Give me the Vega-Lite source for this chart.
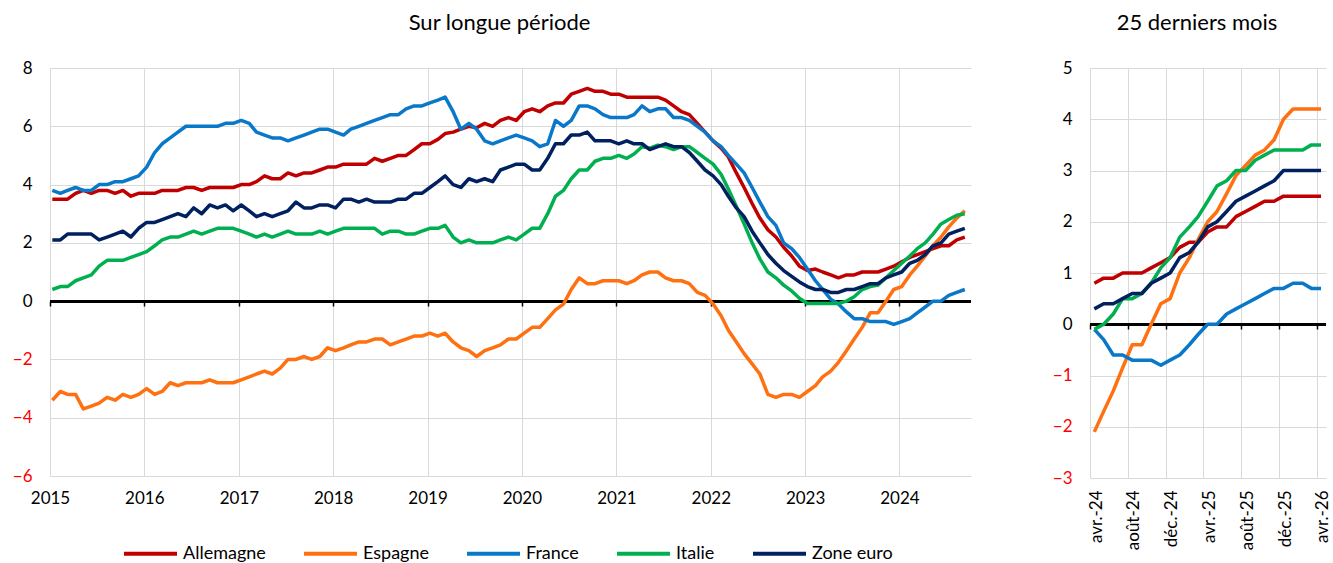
{
"$schema": "https://vega.github.io/schema/vega-lite/v6.json",
"padding": {"left": 12, "top": 12, "right": 2, "bottom": 0},
"config": {"font": "Lato", "view": {"stroke": null}, "title": {"fontSize": 22, "fontWeight": "normal", "color": "#000000", "offset": 24}, "axis": {"labelFont": "Lato", "labelColor": "#000000"}},
"spacing": 80,
"resolve": {"legend": {"color": "independent"}, "scale": {"color": "independent"}},
"hconcat": [
{
"title": {"text": "Sur longue période", "dx": -11},
"width": 921,
"height": 408,
"data": {"values": [
{"d":"2015-01-10","Allemagne":3.5,"Espagne":-3.4,"France":3.8,"Italie":0.4,"Zone euro":2.1},
{"d":"2015-02-10","Allemagne":3.5,"Espagne":-3.1,"France":3.7,"Italie":0.5,"Zone euro":2.1},
{"d":"2015-03-10","Allemagne":3.5,"Espagne":-3.2,"France":3.8,"Italie":0.5,"Zone euro":2.3},
{"d":"2015-04-10","Allemagne":3.7,"Espagne":-3.2,"France":3.9,"Italie":0.7,"Zone euro":2.3},
{"d":"2015-05-10","Allemagne":3.8,"Espagne":-3.7,"France":3.8,"Italie":0.8,"Zone euro":2.3},
{"d":"2015-06-10","Allemagne":3.7,"Espagne":-3.6,"France":3.8,"Italie":0.9,"Zone euro":2.3},
{"d":"2015-07-10","Allemagne":3.8,"Espagne":-3.5,"France":4.0,"Italie":1.2,"Zone euro":2.1},
{"d":"2015-08-10","Allemagne":3.8,"Espagne":-3.3,"France":4.0,"Italie":1.4,"Zone euro":2.2},
{"d":"2015-09-10","Allemagne":3.7,"Espagne":-3.4,"France":4.1,"Italie":1.4,"Zone euro":2.3},
{"d":"2015-10-10","Allemagne":3.8,"Espagne":-3.2,"France":4.1,"Italie":1.4,"Zone euro":2.4},
{"d":"2015-11-10","Allemagne":3.6,"Espagne":-3.3,"France":4.2,"Italie":1.5,"Zone euro":2.2},
{"d":"2015-12-10","Allemagne":3.7,"Espagne":-3.2,"France":4.3,"Italie":1.6,"Zone euro":2.5},
{"d":"2016-01-10","Allemagne":3.7,"Espagne":-3.0,"France":4.6,"Italie":1.7,"Zone euro":2.7},
{"d":"2016-02-10","Allemagne":3.7,"Espagne":-3.2,"France":5.1,"Italie":1.9,"Zone euro":2.7},
{"d":"2016-03-10","Allemagne":3.8,"Espagne":-3.1,"France":5.4,"Italie":2.1,"Zone euro":2.8},
{"d":"2016-04-10","Allemagne":3.8,"Espagne":-2.8,"France":5.6,"Italie":2.2,"Zone euro":2.9},
{"d":"2016-05-10","Allemagne":3.8,"Espagne":-2.9,"France":5.8,"Italie":2.2,"Zone euro":3.0},
{"d":"2016-06-10","Allemagne":3.9,"Espagne":-2.8,"France":6.0,"Italie":2.3,"Zone euro":2.9},
{"d":"2016-07-10","Allemagne":3.9,"Espagne":-2.8,"France":6.0,"Italie":2.4,"Zone euro":3.2},
{"d":"2016-08-10","Allemagne":3.8,"Espagne":-2.8,"France":6.0,"Italie":2.3,"Zone euro":3.0},
{"d":"2016-09-10","Allemagne":3.9,"Espagne":-2.7,"France":6.0,"Italie":2.4,"Zone euro":3.3},
{"d":"2016-10-10","Allemagne":3.9,"Espagne":-2.8,"France":6.0,"Italie":2.5,"Zone euro":3.2},
{"d":"2016-11-10","Allemagne":3.9,"Espagne":-2.8,"France":6.1,"Italie":2.5,"Zone euro":3.3},
{"d":"2016-12-10","Allemagne":3.9,"Espagne":-2.8,"France":6.1,"Italie":2.5,"Zone euro":3.1},
{"d":"2017-01-10","Allemagne":4.0,"Espagne":-2.7,"France":6.2,"Italie":2.4,"Zone euro":3.3},
{"d":"2017-02-10","Allemagne":4.0,"Espagne":-2.6,"France":6.1,"Italie":2.3,"Zone euro":3.1},
{"d":"2017-03-10","Allemagne":4.1,"Espagne":-2.5,"France":5.8,"Italie":2.2,"Zone euro":2.9},
{"d":"2017-04-10","Allemagne":4.3,"Espagne":-2.4,"France":5.7,"Italie":2.3,"Zone euro":3.0},
{"d":"2017-05-10","Allemagne":4.2,"Espagne":-2.5,"France":5.6,"Italie":2.2,"Zone euro":2.9},
{"d":"2017-06-10","Allemagne":4.2,"Espagne":-2.3,"France":5.6,"Italie":2.3,"Zone euro":3.0},
{"d":"2017-07-10","Allemagne":4.4,"Espagne":-2.0,"France":5.5,"Italie":2.4,"Zone euro":3.1},
{"d":"2017-08-10","Allemagne":4.3,"Espagne":-2.0,"France":5.6,"Italie":2.3,"Zone euro":3.4},
{"d":"2017-09-10","Allemagne":4.4,"Espagne":-1.9,"France":5.7,"Italie":2.3,"Zone euro":3.2},
{"d":"2017-10-10","Allemagne":4.4,"Espagne":-2.0,"France":5.8,"Italie":2.3,"Zone euro":3.2},
{"d":"2017-11-10","Allemagne":4.5,"Espagne":-1.9,"France":5.9,"Italie":2.4,"Zone euro":3.3},
{"d":"2017-12-10","Allemagne":4.6,"Espagne":-1.6,"France":5.9,"Italie":2.3,"Zone euro":3.3},
{"d":"2018-01-10","Allemagne":4.6,"Espagne":-1.7,"France":5.8,"Italie":2.4,"Zone euro":3.2},
{"d":"2018-02-10","Allemagne":4.7,"Espagne":-1.6,"France":5.7,"Italie":2.5,"Zone euro":3.5},
{"d":"2018-03-10","Allemagne":4.7,"Espagne":-1.5,"France":5.9,"Italie":2.5,"Zone euro":3.5},
{"d":"2018-04-10","Allemagne":4.7,"Espagne":-1.4,"France":6.0,"Italie":2.5,"Zone euro":3.4},
{"d":"2018-05-10","Allemagne":4.7,"Espagne":-1.4,"France":6.1,"Italie":2.5,"Zone euro":3.5},
{"d":"2018-06-10","Allemagne":4.9,"Espagne":-1.3,"France":6.2,"Italie":2.5,"Zone euro":3.4},
{"d":"2018-07-10","Allemagne":4.8,"Espagne":-1.3,"France":6.3,"Italie":2.3,"Zone euro":3.4},
{"d":"2018-08-10","Allemagne":4.9,"Espagne":-1.5,"France":6.4,"Italie":2.4,"Zone euro":3.4},
{"d":"2018-09-10","Allemagne":5.0,"Espagne":-1.4,"France":6.4,"Italie":2.4,"Zone euro":3.5},
{"d":"2018-10-10","Allemagne":5.0,"Espagne":-1.3,"France":6.6,"Italie":2.3,"Zone euro":3.5},
{"d":"2018-11-10","Allemagne":5.2,"Espagne":-1.2,"France":6.7,"Italie":2.3,"Zone euro":3.7},
{"d":"2018-12-10","Allemagne":5.4,"Espagne":-1.2,"France":6.7,"Italie":2.4,"Zone euro":3.7},
{"d":"2019-01-10","Allemagne":5.4,"Espagne":-1.1,"France":6.8,"Italie":2.5,"Zone euro":3.9},
{"d":"2019-02-10","Allemagne":5.55,"Espagne":-1.2,"France":6.9,"Italie":2.5,"Zone euro":4.1},
{"d":"2019-03-10","Allemagne":5.75,"Espagne":-1.1,"France":7.0,"Italie":2.6,"Zone euro":4.3},
{"d":"2019-04-10","Allemagne":5.8,"Espagne":-1.4,"France":6.5,"Italie":2.2,"Zone euro":4.0},
{"d":"2019-05-10","Allemagne":5.9,"Espagne":-1.6,"France":5.9,"Italie":2.0,"Zone euro":3.9},
{"d":"2019-06-10","Allemagne":6.0,"Espagne":-1.7,"France":6.1,"Italie":2.1,"Zone euro":4.2},
{"d":"2019-07-10","Allemagne":5.95,"Espagne":-1.9,"France":5.9,"Italie":2.0,"Zone euro":4.1},
{"d":"2019-08-10","Allemagne":6.1,"Espagne":-1.7,"France":5.5,"Italie":2.0,"Zone euro":4.2},
{"d":"2019-09-10","Allemagne":6.0,"Espagne":-1.6,"France":5.4,"Italie":2.0,"Zone euro":4.1},
{"d":"2019-10-10","Allemagne":6.2,"Espagne":-1.5,"France":5.5,"Italie":2.1,"Zone euro":4.5},
{"d":"2019-11-10","Allemagne":6.3,"Espagne":-1.3,"France":5.6,"Italie":2.2,"Zone euro":4.6},
{"d":"2019-12-10","Allemagne":6.2,"Espagne":-1.3,"France":5.7,"Italie":2.1,"Zone euro":4.7},
{"d":"2020-01-10","Allemagne":6.5,"Espagne":-1.1,"France":5.6,"Italie":2.3,"Zone euro":4.7},
{"d":"2020-02-10","Allemagne":6.6,"Espagne":-0.9,"France":5.5,"Italie":2.5,"Zone euro":4.5},
{"d":"2020-03-10","Allemagne":6.5,"Espagne":-0.9,"France":5.3,"Italie":2.5,"Zone euro":4.5},
{"d":"2020-04-10","Allemagne":6.7,"Espagne":-0.6,"France":5.4,"Italie":3.0,"Zone euro":4.9},
{"d":"2020-05-10","Allemagne":6.8,"Espagne":-0.3,"France":6.2,"Italie":3.6,"Zone euro":5.4},
{"d":"2020-06-10","Allemagne":6.8,"Espagne":-0.1,"France":6.0,"Italie":3.8,"Zone euro":5.4},
{"d":"2020-07-10","Allemagne":7.1,"Espagne":0.4,"France":6.2,"Italie":4.2,"Zone euro":5.7},
{"d":"2020-08-10","Allemagne":7.2,"Espagne":0.8,"France":6.7,"Italie":4.5,"Zone euro":5.7},
{"d":"2020-09-10","Allemagne":7.3,"Espagne":0.6,"France":6.7,"Italie":4.5,"Zone euro":5.8},
{"d":"2020-10-10","Allemagne":7.2,"Espagne":0.6,"France":6.6,"Italie":4.8,"Zone euro":5.5},
{"d":"2020-11-10","Allemagne":7.2,"Espagne":0.7,"France":6.4,"Italie":4.9,"Zone euro":5.5},
{"d":"2020-12-10","Allemagne":7.1,"Espagne":0.7,"France":6.3,"Italie":4.9,"Zone euro":5.5},
{"d":"2021-01-10","Allemagne":7.1,"Espagne":0.7,"France":6.3,"Italie":5.0,"Zone euro":5.4},
{"d":"2021-02-10","Allemagne":7.0,"Espagne":0.6,"France":6.3,"Italie":4.9,"Zone euro":5.5},
{"d":"2021-03-10","Allemagne":7.0,"Espagne":0.7,"France":6.4,"Italie":5.05,"Zone euro":5.4},
{"d":"2021-04-10","Allemagne":7.0,"Espagne":0.9,"France":6.7,"Italie":5.3,"Zone euro":5.4},
{"d":"2021-05-10","Allemagne":7.0,"Espagne":1.0,"France":6.5,"Italie":5.25,"Zone euro":5.2},
{"d":"2021-06-10","Allemagne":7.0,"Espagne":1.0,"France":6.6,"Italie":5.35,"Zone euro":5.3},
{"d":"2021-07-10","Allemagne":6.9,"Espagne":0.8,"France":6.6,"Italie":5.3,"Zone euro":5.4},
{"d":"2021-08-10","Allemagne":6.7,"Espagne":0.7,"France":6.3,"Italie":5.2,"Zone euro":5.3},
{"d":"2021-09-10","Allemagne":6.5,"Espagne":0.7,"France":6.3,"Italie":5.3,"Zone euro":5.3},
{"d":"2021-10-10","Allemagne":6.4,"Espagne":0.6,"France":6.2,"Italie":5.3,"Zone euro":5.1},
{"d":"2021-11-10","Allemagne":6.1,"Espagne":0.3,"France":6.0,"Italie":5.1,"Zone euro":4.8},
{"d":"2021-12-10","Allemagne":5.8,"Espagne":0.2,"France":5.8,"Italie":4.9,"Zone euro":4.5},
{"d":"2022-01-10","Allemagne":5.5,"Espagne":-0.1,"France":5.5,"Italie":4.7,"Zone euro":4.3},
{"d":"2022-02-10","Allemagne":5.25,"Espagne":-0.5,"France":5.3,"Italie":4.35,"Zone euro":4.0},
{"d":"2022-03-10","Allemagne":4.95,"Espagne":-1.0,"France":5.0,"Italie":3.85,"Zone euro":3.6},
{"d":"2022-04-10","Allemagne":4.4,"Espagne":-1.4,"France":4.7,"Italie":3.25,"Zone euro":3.2},
{"d":"2022-05-10","Allemagne":3.9,"Espagne":-1.8,"France":4.4,"Italie":2.65,"Zone euro":2.9},
{"d":"2022-06-10","Allemagne":3.35,"Espagne":-2.15,"France":3.9,"Italie":2.0,"Zone euro":2.4},
{"d":"2022-07-10","Allemagne":2.85,"Espagne":-2.5,"France":3.4,"Italie":1.45,"Zone euro":2.0},
{"d":"2022-08-10","Allemagne":2.45,"Espagne":-3.2,"France":2.9,"Italie":1.0,"Zone euro":1.6},
{"d":"2022-09-10","Allemagne":2.2,"Espagne":-3.3,"France":2.6,"Italie":0.8,"Zone euro":1.3},
{"d":"2022-10-10","Allemagne":1.85,"Espagne":-3.2,"France":2.0,"Italie":0.55,"Zone euro":1.05},
{"d":"2022-11-10","Allemagne":1.55,"Espagne":-3.2,"France":1.8,"Italie":0.35,"Zone euro":0.85},
{"d":"2022-12-10","Allemagne":1.2,"Espagne":-3.3,"France":1.5,"Italie":0.1,"Zone euro":0.66},
{"d":"2023-01-10","Allemagne":1.05,"Espagne":-3.1,"France":1.1,"Italie":-0.08,"Zone euro":0.5},
{"d":"2023-02-10","Allemagne":1.1,"Espagne":-2.9,"France":0.7,"Italie":-0.08,"Zone euro":0.4},
{"d":"2023-03-10","Allemagne":1.0,"Espagne":-2.6,"France":0.4,"Italie":-0.08,"Zone euro":0.4},
{"d":"2023-04-10","Allemagne":0.9,"Espagne":-2.4,"France":0.07,"Italie":-0.08,"Zone euro":0.3},
{"d":"2023-05-10","Allemagne":0.8,"Espagne":-2.1,"France":-0.1,"Italie":-0.08,"Zone euro":0.3},
{"d":"2023-06-10","Allemagne":0.9,"Espagne":-1.7,"France":-0.37,"Italie":0.0,"Zone euro":0.4},
{"d":"2023-07-10","Allemagne":0.9,"Espagne":-1.3,"France":-0.6,"Italie":0.15,"Zone euro":0.4},
{"d":"2023-08-10","Allemagne":1.0,"Espagne":-0.9,"France":-0.6,"Italie":0.4,"Zone euro":0.5},
{"d":"2023-09-10","Allemagne":1.0,"Espagne":-0.4,"France":-0.7,"Italie":0.5,"Zone euro":0.6},
{"d":"2023-10-10","Allemagne":1.0,"Espagne":-0.4,"France":-0.7,"Italie":0.55,"Zone euro":0.6},
{"d":"2023-11-10","Allemagne":1.1,"Espagne":0.0,"France":-0.7,"Italie":0.8,"Zone euro":0.8},
{"d":"2023-12-10","Allemagne":1.2,"Espagne":0.4,"France":-0.8,"Italie":1.05,"Zone euro":0.9},
{"d":"2024-01-10","Allemagne":1.35,"Espagne":0.5,"France":-0.7,"Italie":1.3,"Zone euro":1.0},
{"d":"2024-02-10","Allemagne":1.5,"Espagne":0.9,"France":-0.6,"Italie":1.55,"Zone euro":1.3},
{"d":"2024-03-10","Allemagne":1.6,"Espagne":1.2,"France":-0.4,"Italie":1.8,"Zone euro":1.4},
{"d":"2024-04-10","Allemagne":1.7,"Espagne":1.55,"France":-0.2,"Italie":2.0,"Zone euro":1.6},
{"d":"2024-05-10","Allemagne":1.8,"Espagne":1.9,"France":0.0,"Italie":2.3,"Zone euro":1.9},
{"d":"2024-06-10","Allemagne":1.9,"Espagne":2.2,"France":0.0,"Italie":2.65,"Zone euro":2.0},
{"d":"2024-07-10","Allemagne":1.9,"Espagne":2.55,"France":0.2,"Italie":2.8,"Zone euro":2.3},
{"d":"2024-08-10","Allemagne":2.1,"Espagne":2.85,"France":0.3,"Italie":2.95,"Zone euro":2.4},
{"d":"2024-09-10","Allemagne":2.2,"Espagne":3.1,"France":0.4,"Italie":3.0,"Zone euro":2.5}
]},
"transform": [{"fold": ["Allemagne","Espagne","France","Italie","Zone euro"], "as": ["pays","val"]}],
"layer": [
{
"mark": {"type": "rule", "color": "#000000", "strokeWidth": 2},
"encoding": {
"x": {"datum": {"year": 2015, "month": 1, "date": 1, "utc": true}, "type": "temporal",
"scale": {"type": "utc", "domain": [{"year": 2015, "month": 1, "date": 1, "utc": true}, {"year": 2024, "month": 10, "date": 4, "utc": true}]},
"axis": {"orient": "bottom", "offset": -175, "domain": false, "grid": false, "labels": false, "ticks": true, "tickSize": 5, "tickWidth": 1.5, "tickColor": "#000000", "title": null,
"values": [{"year":2015,"month":1,"date":1,"utc":true},{"year":2016,"month":1,"date":1,"utc":true},{"year":2017,"month":1,"date":1,"utc":true},{"year":2018,"month":1,"date":1,"utc":true},{"year":2019,"month":1,"date":1,"utc":true},{"year":2020,"month":1,"date":1,"utc":true},{"year":2021,"month":1,"date":1,"utc":true},{"year":2022,"month":1,"date":1,"utc":true},{"year":2023,"month":1,"date":1,"utc":true},{"year":2024,"month":1,"date":1,"utc":true}]}},
"x2": {"datum": {"year": 2024, "month": 10, "date": 4, "utc": true}},
"y": {"datum": 0, "type": "quantitative", "scale": {"domain": [-6, 8]},
"axis": {"values": [-6,-4,-2,0,2,4,6,8], "grid": true, "gridColor": "#d9d9d9", "gridWidth": 1, "domain": false, "ticks": false, "labelPadding": 18, "labelFontSize": 17, "title": null,
"labelColor": {"condition": {"test": "datum.value < 0", "value": "#ff0000"}, "value": "#000000"}}}
}
},
{
"mark": {"type": "line", "strokeWidth": 3.5, "strokeJoin": "round"},
"encoding": {
"x": {"field": "d", "type": "temporal",
"scale": {"type": "utc", "domain": [{"year": 2015, "month": 1, "date": 1, "utc": true}, {"year": 2024, "month": 10, "date": 4, "utc": true}]},
"axis": {"orient": "bottom", "format": "%Y", "grid": true, "gridColor": "#d9d9d9", "gridWidth": 1, "domain": false, "ticks": false, "labelPadding": 14, "labelFontSize": 17, "labelFlush": false, "labelOverlap": false, "title": null,
"values": [{"year":2015,"month":1,"date":1,"utc":true},{"year":2016,"month":1,"date":1,"utc":true},{"year":2017,"month":1,"date":1,"utc":true},{"year":2018,"month":1,"date":1,"utc":true},{"year":2019,"month":1,"date":1,"utc":true},{"year":2020,"month":1,"date":1,"utc":true},{"year":2021,"month":1,"date":1,"utc":true},{"year":2022,"month":1,"date":1,"utc":true},{"year":2023,"month":1,"date":1,"utc":true},{"year":2024,"month":1,"date":1,"utc":true}]}},
"y": {"field": "val", "type": "quantitative", "scale": {"domain": [-6, 8]},
"axis": {"values": [-6,-4,-2,0,2,4,6,8], "grid": true, "gridColor": "#d9d9d9", "gridWidth": 1, "domain": false, "ticks": false, "labelPadding": 18, "labelFontSize": 17, "title": null,
"labelColor": {"condition": {"test": "datum.value < 0", "value": "#ff0000"}, "value": "#000000"}}},
"color": {"field": "pays", "type": "nominal",
"scale": {"domain": ["Allemagne","Espagne","France","Italie","Zone euro"], "range": ["#C00000","#FF7010","#0A78C8","#00B050","#002060"]},
"legend": {"orient": "none", "legendX": 72, "legendY": 457, "direction": "horizontal", "title": null, "symbolType": "stroke", "symbolSize": 2809, "symbolStrokeWidth": 4, "labelFontSize": 18, "labelColor": "#000000", "columnPadding": 30, "labelOffset": 4, "labelLimit": 200}}
}
}
],
"resolve": {"axis": {"x": "independent"}}
},
{
"title": {"text": "25 derniers mois", "dx": -11},
"width": 236,
"height": 410,
"data": {"values": [
{"d":"2024-04-15","Allemagne":0.8,"Espagne":-2.1,"France":-0.1,"Italie":-0.1,"Zone euro":0.3},
{"d":"2024-05-15","Allemagne":0.9,"Espagne":-1.7,"France":-0.3,"Italie":0.0,"Zone euro":0.4},
{"d":"2024-06-15","Allemagne":0.9,"Espagne":-1.3,"France":-0.6,"Italie":0.2,"Zone euro":0.4},
{"d":"2024-07-15","Allemagne":1.0,"Espagne":-0.85,"France":-0.6,"Italie":0.5,"Zone euro":0.5},
{"d":"2024-08-15","Allemagne":1.0,"Espagne":-0.4,"France":-0.7,"Italie":0.5,"Zone euro":0.6},
{"d":"2024-09-15","Allemagne":1.0,"Espagne":-0.4,"France":-0.7,"Italie":0.6,"Zone euro":0.6},
{"d":"2024-10-15","Allemagne":1.1,"Espagne":0.0,"France":-0.7,"Italie":0.8,"Zone euro":0.8},
{"d":"2024-11-15","Allemagne":1.2,"Espagne":0.4,"France":-0.8,"Italie":1.1,"Zone euro":0.9},
{"d":"2024-12-15","Allemagne":1.3,"Espagne":0.5,"France":-0.7,"Italie":1.3,"Zone euro":1.0},
{"d":"2025-01-15","Allemagne":1.5,"Espagne":1.0,"France":-0.6,"Italie":1.7,"Zone euro":1.3},
{"d":"2025-02-15","Allemagne":1.6,"Espagne":1.3,"France":-0.4,"Italie":1.9,"Zone euro":1.4},
{"d":"2025-03-15","Allemagne":1.6,"Espagne":1.65,"France":-0.2,"Italie":2.1,"Zone euro":1.6},
{"d":"2025-04-15","Allemagne":1.8,"Espagne":2.0,"France":0.0,"Italie":2.4,"Zone euro":1.9},
{"d":"2025-05-15","Allemagne":1.9,"Espagne":2.2,"France":0.0,"Italie":2.7,"Zone euro":2.0},
{"d":"2025-06-15","Allemagne":1.9,"Espagne":2.55,"France":0.2,"Italie":2.8,"Zone euro":2.2},
{"d":"2025-07-15","Allemagne":2.1,"Espagne":2.9,"France":0.3,"Italie":3.0,"Zone euro":2.4},
{"d":"2025-08-15","Allemagne":2.2,"Espagne":3.1,"France":0.4,"Italie":3.0,"Zone euro":2.5},
{"d":"2025-09-15","Allemagne":2.3,"Espagne":3.3,"France":0.5,"Italie":3.2,"Zone euro":2.6},
{"d":"2025-10-15","Allemagne":2.4,"Espagne":3.4,"France":0.6,"Italie":3.3,"Zone euro":2.7},
{"d":"2025-11-15","Allemagne":2.4,"Espagne":3.6,"France":0.7,"Italie":3.4,"Zone euro":2.8},
{"d":"2025-12-15","Allemagne":2.5,"Espagne":4.0,"France":0.7,"Italie":3.4,"Zone euro":3.0},
{"d":"2026-01-15","Allemagne":2.5,"Espagne":4.2,"France":0.8,"Italie":3.4,"Zone euro":3.0},
{"d":"2026-02-15","Allemagne":2.5,"Espagne":4.2,"France":0.8,"Italie":3.4,"Zone euro":3.0},
{"d":"2026-03-15","Allemagne":2.5,"Espagne":4.2,"France":0.7,"Italie":3.5,"Zone euro":3.0},
{"d":"2026-04-15","Allemagne":2.5,"Espagne":4.2,"France":0.7,"Italie":3.5,"Zone euro":3.0}
]},
"transform": [{"fold": ["Allemagne","Espagne","France","Italie","Zone euro"], "as": ["pays","val"]}],
"layer": [
{
"mark": {"type": "rule", "color": "#000000", "strokeWidth": 2},
"encoding": {
"x": {"datum": {"year": 2024, "month": 4, "date": 1, "utc": true}, "type": "temporal",
"scale": {"type": "utc", "domain": [{"year": 2024, "month": 4, "date": 1, "utc": true}, {"year": 2026, "month": 5, "date": 1, "utc": true}]},
"axis": {"orient": "bottom", "offset": -154, "domain": false, "grid": false, "labels": false, "ticks": true, "tickSize": 5, "tickWidth": 1.5, "tickColor": "#000000", "title": null,
"values": [{"year":2024,"month":4,"date":1,"utc":true},{"year":2024,"month":8,"date":1,"utc":true},{"year":2024,"month":12,"date":1,"utc":true},{"year":2025,"month":4,"date":1,"utc":true},{"year":2025,"month":8,"date":1,"utc":true},{"year":2025,"month":12,"date":1,"utc":true},{"year":2026,"month":4,"date":1,"utc":true}]}},
"x2": {"datum": {"year": 2026, "month": 5, "date": 1, "utc": true}},
"y": {"datum": 0, "type": "quantitative", "scale": {"domain": [-3, 5]},
"axis": {"values": [-3,-2,-1,0,1,2,3,4,5], "grid": true, "gridColor": "#d9d9d9", "gridWidth": 1, "domain": false, "ticks": false, "labelPadding": 18, "labelFontSize": 17, "title": null,
"labelColor": {"condition": {"test": "datum.value < 0", "value": "#ff0000"}, "value": "#000000"}}}
}
},
{
"mark": {"type": "line", "strokeWidth": 3.5, "strokeJoin": "round"},
"encoding": {
"x": {"field": "d", "type": "temporal",
"scale": {"type": "utc", "domain": [{"year": 2024, "month": 4, "date": 1, "utc": true}, {"year": 2026, "month": 5, "date": 1, "utc": true}]},
"axis": {"orient": "bottom", "grid": true, "gridColor": "#d9d9d9", "gridWidth": 1, "domain": false, "ticks": false, "labelAngle": -90, "labelPadding": 12, "labelOffset": 6, "labelFontSize": 17, "labelFlush": false, "labelOverlap": false, "title": null,
"labelExpr": "(utcmonth(datum.value) == 3 ? 'avr.' : utcmonth(datum.value) == 7 ? 'août' : 'déc.') + '-' + utcFormat(datum.value, '%y')",
"values": [{"year":2024,"month":4,"date":1,"utc":true},{"year":2024,"month":8,"date":1,"utc":true},{"year":2024,"month":12,"date":1,"utc":true},{"year":2025,"month":4,"date":1,"utc":true},{"year":2025,"month":8,"date":1,"utc":true},{"year":2025,"month":12,"date":1,"utc":true},{"year":2026,"month":4,"date":1,"utc":true}]}},
"y": {"field": "val", "type": "quantitative", "scale": {"domain": [-3, 5]},
"axis": {"values": [-3,-2,-1,0,1,2,3,4,5], "grid": true, "gridColor": "#d9d9d9", "gridWidth": 1, "domain": false, "ticks": false, "labelPadding": 18, "labelFontSize": 17, "title": null,
"labelColor": {"condition": {"test": "datum.value < 0", "value": "#ff0000"}, "value": "#000000"}}},
"color": {"field": "pays", "type": "nominal",
"scale": {"domain": ["Allemagne","Espagne","France","Italie","Zone euro"], "range": ["#C00000","#FF7010","#0A78C8","#00B050","#002060"]},
"legend": null}
}
}
],
"resolve": {"axis": {"x": "independent"}}
}
]
}
